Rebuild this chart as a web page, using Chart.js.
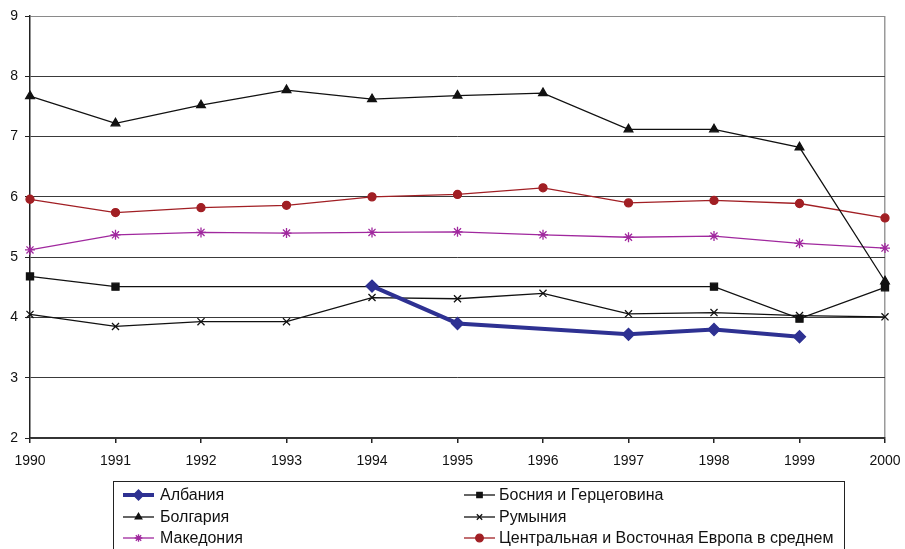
<!DOCTYPE html>
<html>
<head>
<meta charset="utf-8">
<script src="https://cdn.jsdelivr.net/npm/chart.js@4/dist/chart.umd.min.js"></script>
<style>
  html, body { margin: 0; padding: 0; background: #fff; }
  #wrap { width: 905px; height: 549px; position: relative; }
</style>
</head>
<body>
<div id="wrap"><canvas id="c" width="905" height="549"></canvas></div>
<script>
// Years on the horizontal axis
const years = ['1990','1991','1992','1993','1994','1995','1996','1997','1998','1999','2000'];

// Index values per country (null = no observation)
const albania   = [null, null, null, null, 4.52, 3.90, null, 3.72, 3.80, 3.68, null];
const bosnia    = [4.68, 4.51, null, null, null, null, null, null, 4.51, 3.98, 4.50];
const bulgaria  = [7.67, 7.22, 7.52, 7.77, 7.62, 7.68, 7.72, 7.12, 7.12, 6.82, 4.60];
const romania   = [4.05, 3.85, 3.93, 3.93, 4.33, 4.31, 4.40, 4.06, 4.08, 4.03, 4.01];
const macedonia = [5.12, 5.37, 5.41, 5.40, 5.41, 5.42, 5.37, 5.33, 5.35, 5.23, 5.15];
const ceeAvg    = [5.96, 5.74, 5.82, 5.86, 6.00, 6.04, 6.15, 5.90, 5.94, 5.89, 5.65];

const FONT = '"Liberation Sans", Arial, sans-serif';

function series(label, data, color, width, style, radius, order) {
  return {
    label, data,
    borderColor: color, backgroundColor: color,
    borderWidth: width,
    pointStyle: style, pointRadius: radius, pointHoverRadius: radius,
    pointBorderColor: color, pointBackgroundColor: color,
    pointBorderWidth: 1.3,
    spanGaps: true, tension: 0, order
  };
}

const datasets = [
  series('Албания', albania, '#2e3192', 4, 'rectRot', 6, 0),
  series('Босния и Герцеговина', bosnia, '#111111', 1.3, 'rect', 5, 3),
  series('Болгария', bulgaria, '#111111', 1.3, 'triangle', 5, 2),
  series('Румыния', romania, '#111111', 1.3, 'crossRot', 5, 4),
  series('Македония', macedonia, '#a0289e', 1.3, 'star', 5, 5),
  series('Центральная и Восточная Европа в среднем', ceeAvg, '#a11f24', 1.3, 'circle', 4, 6)
];

// Two-column boxed legend under the plot
const boxLegend = {
  id: 'boxLegend',
  afterDraw(chart) {
    const ctx = chart.ctx;
    const box = { x: 113.5, y: 481.5, w: 731, h: 80 };
    ctx.save();
    ctx.strokeStyle = '#222';
    ctx.lineWidth = 1;
    ctx.strokeRect(box.x, box.y, box.w, box.h);
    const cols = [{ lx: 123, tx: 160 }, { lx: 464, tx: 499 }];
    const rows = [495, 517, 538];
    ctx.font = '16px ' + FONT;
    ctx.textBaseline = 'middle';
    chart.data.datasets.forEach((ds, i) => {
      const c = cols[i % 2], y = rows[Math.floor(i / 2)];
      const len = 31;
      ctx.strokeStyle = ds.borderColor;
      ctx.lineWidth = ds.borderWidth;
      ctx.beginPath();
      ctx.moveTo(c.lx, y);
      ctx.lineTo(c.lx + len, y);
      ctx.stroke();
      const opts = {
        pointStyle: ds.pointStyle, radius: i === 0 ? 5 : 3.8, rotation: 0,
        borderWidth: 1.3
      };
      ctx.fillStyle = ds.pointBackgroundColor;
      ctx.strokeStyle = ds.pointBorderColor;
      ctx.lineWidth = 1.3;
      if (Chart.helpers && Chart.helpers.drawPoint) {
        Chart.helpers.drawPoint(ctx, opts, c.lx + len / 2, y);
      }
      ctx.fillStyle = '#111';
      ctx.fillText(ds.label, c.tx, y + 1);
    });
    ctx.restore();
  }
};

new Chart(document.getElementById('c'), {
  type: 'line',
  data: { labels: years, datasets },
  plugins: [boxLegend],
  options: {
    responsive: false,
    animation: false,
    layout: { padding: { top: 16, right: 20, left: 0, bottom: 0 } },
    plugins: { legend: { display: false }, tooltip: { enabled: false } },
    scales: {
      x: {
        type: 'category',
        offset: false,
        afterFit(s) { s.height = 111; s.paddingLeft = 0; s.paddingRight = 0; },
        grid: {
          drawOnChartArea: true,
          color: (c) => c.index === years.length - 1 ? '#9a9a9a' : 'rgba(0,0,0,0)',
          tickColor: '#222',
          tickLength: 5,
          lineWidth: 1.5
        },
        border: { color: '#333', width: 1.5 },
        ticks: { color: '#111', font: { family: FONT, size: 14 }, padding: 10, maxRotation: 0, autoSkip: false }
      },
      y: {
        min: 2, max: 9,
        afterFit(s) { s.width = 30; s.paddingTop = 0; s.paddingBottom = 0; },
        grid: {
          color: (c) => c.tick.value === 9 ? '#8a8a8a' : '#3a3a3a',
          lineWidth: 1,
          drawTicks: true,
          tickLength: 5,
          tickColor: '#222'
        },
        border: { color: '#222', width: 1.5 },
        ticks: { stepSize: 1, color: '#111', font: { family: FONT, size: 14 }, padding: 7 }
      }
    }
  }
});
</script>
</body>
</html>
